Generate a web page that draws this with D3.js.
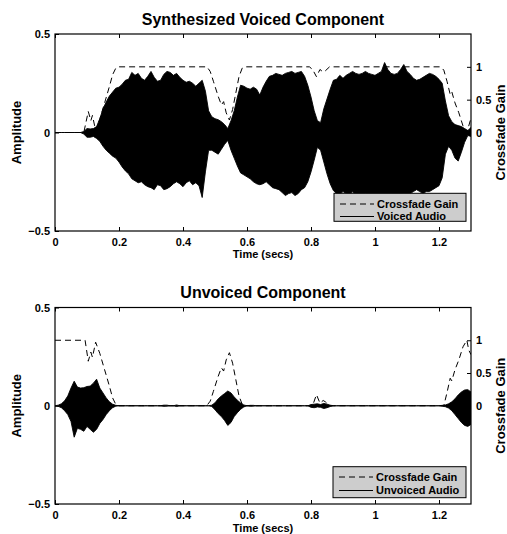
<!DOCTYPE html>
<html><head><meta charset="utf-8">
<script src="https://cdn.jsdelivr.net/npm/d3@7"></script>
<style>
body{margin:0;background:#fff}
svg{display:block}
text{font-family:"Liberation Sans",Arial,Helvetica,sans-serif;font-weight:bold;fill:#000}
</style></head>
<body><svg id="c" width="507" height="534"></svg>
<script>
// ---------- DATA ----------
const xTicks = [0, 0.2, 0.4, 0.6, 0.8, 1, 1.2];
const xTickLabels = ["0", "0.2", "0.4", "0.6", "0.8", "1", "1.2"];
const ampTicks = [-0.5, 0, 0.5];
const ampTickLabels = ["\u22120.5", "0", "0.5"];
const gainTicks = [0, 0.5, 1];
const gainTickLabels = ["0", "0.5", "1"];

// sample times of the envelopes (secs), 0.00 .. 1.30 every 0.01
const envTime = d3.range(131).map(i => +(i / 100).toFixed(2));

const voicedUpper = [
  0,0,0,0,0,0,0,0,0,0.005,
  0.02,0.018,0.02,0.03,0.07,0.12,0.155,0.185,0.205,0.225,
  0.23,0.245,0.265,0.27,0.305,0.29,0.30,0.275,0.265,0.285,
  0.31,0.28,0.26,0.265,0.295,0.31,0.305,0.29,0.30,0.28,
  0.265,0.255,0.26,0.25,0.235,0.25,0.265,0.21,0.11,0.08,
  0.07,0.065,0.055,0.04,0.02,0.06,0.11,0.18,0.24,0.235,
  0.225,0.22,0.23,0.22,0.19,0.23,0.26,0.285,0.29,0.30,
  0.295,0.29,0.30,0.305,0.31,0.30,0.305,0.31,0.285,0.24,
  0.18,0.11,0.06,0.05,0.12,0.17,0.22,0.265,0.27,0.29,
  0.275,0.29,0.30,0.31,0.30,0.295,0.30,0.31,0.30,0.295,
  0.29,0.30,0.31,0.355,0.32,0.30,0.295,0.30,0.32,0.345,
  0.31,0.295,0.275,0.265,0.27,0.28,0.29,0.30,0.295,0.285,
  0.27,0.25,0.16,0.085,0.055,0.04,0.035,0.03,0.02,0.01,0.025
];
const voicedLower = [
  0,0,0,0,0,0,0,0,0,-0.008,
  -0.024,-0.024,-0.02,-0.03,-0.045,-0.07,-0.09,-0.105,-0.12,-0.13,
  -0.15,-0.175,-0.195,-0.21,-0.235,-0.245,-0.255,-0.25,-0.265,-0.275,
  -0.28,-0.29,-0.265,-0.27,-0.29,-0.285,-0.275,-0.26,-0.25,-0.26,
  -0.275,-0.255,-0.245,-0.265,-0.255,-0.27,-0.33,-0.2,-0.09,-0.09,
  -0.10,-0.11,-0.085,-0.06,-0.04,-0.09,-0.13,-0.17,-0.205,-0.215,
  -0.225,-0.235,-0.25,-0.26,-0.265,-0.26,-0.25,-0.265,-0.28,-0.285,
  -0.29,-0.305,-0.32,-0.31,-0.305,-0.32,-0.31,-0.29,-0.28,-0.25,
  -0.2,-0.14,-0.075,-0.09,-0.15,-0.21,-0.26,-0.295,-0.31,-0.315,
  -0.30,-0.31,-0.32,-0.30,-0.32,-0.33,-0.32,-0.31,-0.32,-0.33,
  -0.32,-0.33,-0.32,-0.33,-0.32,-0.31,-0.32,-0.33,-0.32,-0.31,
  -0.32,-0.31,-0.30,-0.29,-0.30,-0.31,-0.30,-0.30,-0.29,-0.28,
  -0.27,-0.23,-0.11,-0.07,-0.09,-0.13,-0.145,-0.10,-0.05,-0.015,-0.02
];
const unvoicedUpper = [
  0,0.003,0.01,0.025,0.05,0.09,0.125,0.095,0.09,0.092,
  0.098,0.10,0.115,0.135,0.09,0.065,0.04,0.02,0.008,0.002,
  0,0,0,0,0,0,0,0,0,0,
  0,0,0,0,0.003,0.003,0,0,0.004,0,
  0,0,0,0,0,0,0,0,0,0.003,
  0.015,0.035,0.05,0.062,0.075,0.065,0.045,0.028,0.014,0.004,
  0,0.002,0.002,0,0,0,0,0,0,0,
  0,0,0,0,0,0,0,0,0,0,
  0.006,0.008,0.01,0.006,0.012,0.008,0.003,0,0,0,
  0,0,0,0,0,0,0,0,0,0,
  0,0,0,0,0,0,0,0,0,0,
  0,0,0,0,0,0,0,0,0,0,
  0,0.002,0.004,0.01,0.02,0.035,0.055,0.07,0.08,0.082,0.07
];
const unvoicedLower = [
  0,-0.003,-0.01,-0.025,-0.045,-0.08,-0.16,-0.115,-0.12,-0.13,
  -0.105,-0.12,-0.135,-0.12,-0.09,-0.07,-0.045,-0.025,-0.01,-0.002,
  0,0,0,0,0,0,0,0,0,0,
  0,0,0,0,-0.003,-0.002,0,0,-0.004,0,
  0,0,0,0,0,0,0,0,0,-0.004,
  -0.02,-0.04,-0.055,-0.075,-0.1,-0.085,-0.055,-0.035,-0.018,-0.006,
  0,-0.002,-0.002,0,0,0,0,0,0,0,
  0,0,0,0,0,0,0,0,0,0,
  -0.008,-0.01,-0.006,-0.008,-0.014,-0.01,-0.004,0,0,0,
  0,0,0,0,0,0,0,0,0,0,
  0,0,0,0,0,0,0,0,0,0,
  0,0,0,0,0,0,0,0,0,0,
  0,-0.002,-0.005,-0.012,-0.025,-0.045,-0.065,-0.085,-0.1,-0.105,-0.095
];

const voicedGainTime = [0,0.09,0.104,0.112,0.117,0.127,0.14,0.155,0.17,0.18,0.19,0.2,
  0.475,0.485,0.495,0.51,0.52,0.527,0.535,0.545,0.555,0.565,0.575,0.585,0.595,
  0.795,0.805,0.817,0.828,0.838,0.845,0.858,
  1.205,1.215,1.225,1.235,1.24,1.25,1.262,1.275,1.287,1.3];
const voicedGain = [0,0,0.32,0.18,0.26,0.03,0.2,0.45,0.7,0.88,0.98,1,
  1,0.93,0.78,0.55,0.42,0.47,0.3,0.19,0.35,0.6,0.85,0.98,1,
  1,0.96,0.85,0.96,0.92,0.94,1,
  1,0.95,0.78,0.58,0.62,0.45,0.3,0.1,0,0.22];

const unvoicedGainTime = [0,0.094,0.104,0.112,0.117,0.127,0.14,0.155,0.17,0.18,0.19,0.2,
  0.474,0.485,0.495,0.51,0.52,0.527,0.535,0.545,0.555,0.565,0.575,0.585,0.595,
  0.805,0.817,0.828,0.838,0.845,0.858,
  1.215,1.225,1.235,1.24,1.25,1.262,1.275,1.287,1.293,1.3];
const unvoicedGain = [1,1,0.68,0.82,0.74,0.97,0.8,0.55,0.3,0.12,0.02,0,
  0,0.07,0.22,0.45,0.58,0.53,0.7,0.81,0.65,0.4,0.15,0.02,0,
  0,0.17,0.04,0.08,0.06,0,
  0,0.2,0.42,0.38,0.55,0.7,0.9,1,0.85,0.78];

// ---------- DRAW ----------
const svg = d3.select("#c");

const panels = [
  {title:"Synthesized Voiced Component", upper:voicedUpper, lower:voicedLower,
   gT:voicedGainTime, g:voicedGain, legend:["Crossfade Gain","Voiced Audio"],
   x0:55, x1:471, y0:34, y1:231, titleY:24.5, xlabY:258,
   leg:{x0:334, x1:466, y0:193.3, y1:221.3, r1:204, r2:216.5}},
  {title:"Unvoiced Component", upper:unvoicedUpper, lower:unvoicedLower,
   gT:unvoicedGainTime, g:unvoicedGain, legend:["Crossfade Gain","Unvoiced Audio"],
   x0:55, x1:471, y0:307.5, y1:504, titleY:297.5, xlabY:531.5,
   leg:{x0:333, x1:466, y0:466.7, y1:497.7, r1:477, r2:490.5}}
];

panels.forEach((p, k) => {
  const g = svg.append("g");
  const x = d3.scaleLinear().domain([0, 1.3]).range([p.x0, p.x1]);
  const y = d3.scaleLinear().domain([-0.5, 0.5]).range([p.y1, p.y0]);
  const yg = d3.scaleLinear().domain([-1.5, 1.5]).range([p.y1, p.y0]);
  const cid = "clip" + k;
  svg.append("clipPath").attr("id", cid).append("rect")
    .attr("x", p.x0).attr("y", p.y0).attr("width", p.x1 - p.x0).attr("height", p.y1 - p.y0);

  const area = d3.area()
    .x((d, i) => x(envTime[i]))
    .y0((d, i) => y(p.lower[i]))
    .y1(d => y(d));
  g.append("path").datum(p.upper).attr("d", area)
    .attr("clip-path", `url(#${cid})`)
    .attr("fill", "#000").attr("stroke", "#000").attr("stroke-width", 0.9)
    .attr("stroke-linejoin", "miter");

  const line = d3.line().x((d, i) => x(p.gT[i])).y(d => yg(d));
  g.append("path").datum(p.g).attr("d", line)
    .attr("clip-path", `url(#${cid})`)
    .attr("fill", "none").attr("stroke", "#000").attr("stroke-width", 1)
    .attr("stroke-dasharray", "6,4");

  // axes
  const fmt = (arr, labels) => d => labels[arr.indexOf(d)];
  const ax = (a) => a.tickSizeOuter(0).tickSizeInner(-4);
  const bx = g.append("g").attr("transform", `translate(0,${p.y1})`)
    .call(ax(d3.axisBottom(x)).tickValues(xTicks).tickFormat(fmt(xTicks, xTickLabels)).tickPadding(6.7));
  const tx = g.append("g").attr("transform", `translate(0,${p.y0})`)
    .call(ax(d3.axisTop(x)).tickValues(xTicks).tickFormat(""));
  const ly = g.append("g").attr("transform", `translate(${p.x0},0)`)
    .call(ax(d3.axisLeft(y)).tickValues(ampTicks).tickFormat(fmt(ampTicks, ampTickLabels)).tickPadding(5));
  const ry = g.append("g").attr("transform", `translate(${p.x1},0)`)
    .call(ax(d3.axisRight(yg)).tickValues(gainTicks).tickFormat(fmt(gainTicks, gainTickLabels)).tickPadding(5));
  [bx, tx, ly, ry].forEach(a => {
    a.select(".domain").remove();
    a.selectAll("line").attr("stroke", "#000").attr("stroke-width", 1);
    a.selectAll("text").attr("font-size", 11).attr("font-family", null).attr("fill", "#000");
  });

  // legend
  const L = p.leg;
  g.append("rect").attr("x", L.x0).attr("y", L.y0).attr("width", L.x1 - L.x0).attr("height", L.y1 - L.y0)
    .attr("fill", "#cdcdcd").attr("stroke", "#000").attr("stroke-width", 1);
  g.append("line").attr("x1", L.x0 + 6).attr("x2", L.x0 + 40).attr("y1", L.r1).attr("y2", L.r1)
    .attr("stroke", "#000").attr("stroke-width", 1).attr("stroke-dasharray", "6,4");
  g.append("line").attr("x1", L.x0 + 6).attr("x2", L.x0 + 40).attr("y1", L.r2).attr("y2", L.r2)
    .attr("stroke", "#000").attr("stroke-width", 1);
  g.append("text").attr("x", L.x0 + 43).attr("y", L.r1).attr("dy", "0.35em").attr("font-size", 11).text(p.legend[0]);
  g.append("text").attr("x", L.x0 + 43).attr("y", L.r2).attr("dy", "0.35em").attr("font-size", 11).text(p.legend[1]);

  // frame
  g.append("rect").attr("x", p.x0).attr("y", p.y0).attr("width", p.x1 - p.x0).attr("height", p.y1 - p.y0)
    .attr("fill", "none").attr("stroke", "#000").attr("stroke-width", 1.2);

  // texts
  const mx = (p.x0 + p.x1) / 2, my = (p.y0 + p.y1) / 2;
  g.append("text").attr("x", mx).attr("y", p.titleY).attr("text-anchor", "middle").attr("font-size", 16).text(p.title);
  g.append("text").attr("x", mx).attr("y", p.xlabY).attr("text-anchor", "middle").attr("font-size", 11).text("Time (secs)");
  g.append("text").attr("transform", `translate(21,${my}) rotate(-90)`).attr("text-anchor", "middle").attr("font-size", 13).text("Amplitude");
  g.append("text").attr("transform", `translate(505,${my}) rotate(-90)`).attr("text-anchor", "middle").attr("font-size", 13).text("Crossfade Gain");
});
</script>
</body></html>
